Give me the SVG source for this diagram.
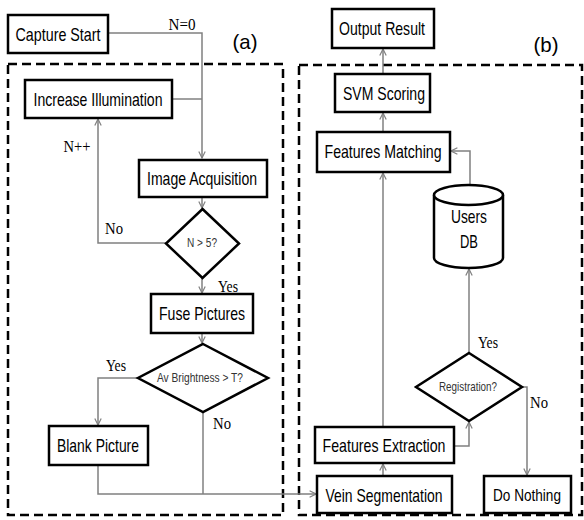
<svg xmlns="http://www.w3.org/2000/svg" width="584" height="520" viewBox="0 0 584 520">
<style>
.box{fill:#fff;stroke:#000;stroke-width:2.5}
.frame{fill:none;stroke:#000;stroke-width:2.5;stroke-dasharray:9,5}
.t{font-family:"Liberation Sans",Arial,sans-serif;font-size:18.5px;fill:#000;text-anchor:middle}
.s{font-family:"Liberation Sans",Arial,sans-serif;font-size:13px;fill:#333;text-anchor:middle}
.l{font-family:"Liberation Serif","Times New Roman",serif;font-size:17px;fill:#000;text-anchor:middle}
.c{fill:none;stroke:#808080;stroke-width:1.5}
</style>
<defs>
<marker id="ar" viewBox="0 0 10 10" refX="9" refY="5" markerWidth="8" markerHeight="8" markerUnits="userSpaceOnUse" orient="auto">
<path d="M1,1 L9,5 L1,9" fill="none" stroke="#808080" stroke-width="1.5"/>
</marker>
</defs>
<rect class="frame" x="8" y="64" width="275" height="451"/>
<rect class="frame" x="299" y="65" width="283" height="450"/>
<text class="t" x="245" y="49" style="font-size:21px" textLength="25" lengthAdjust="spacingAndGlyphs">(a)</text>
<text class="t" x="546" y="52" style="font-size:21px" textLength="25" lengthAdjust="spacingAndGlyphs">(b)</text>
<g id="connectors">
<path class="c" d="M108,33 H202 V158" marker-end="url(#ar)"/>
<path class="c" d="M172,99 H202"/>
<path class="c" d="M202,197 V208" marker-end="url(#ar)"/>
<path class="c" d="M166,243 H98 V119" marker-end="url(#ar)"/>
<path class="c" d="M202,278 V293" marker-end="url(#ar)"/>
<path class="c" d="M202,333 V343" marker-end="url(#ar)"/>
<path class="c" d="M138,378 H98 V425" marker-end="url(#ar)"/>
<path class="c" d="M98,465 V494 H316" marker-end="url(#ar)"/>
<path class="c" d="M203,412 V494"/>
<path class="c" d="M383,476 V464" marker-end="url(#ar)"/>
<path class="c" d="M454,446 H469 V422" marker-end="url(#ar)"/>
<path class="c" d="M469,353 V269" marker-end="url(#ar)"/>
<path class="c" d="M522,387 H527 V475" marker-end="url(#ar)"/>
<path class="c" d="M383,427 V173" marker-end="url(#ar)"/>
<path class="c" d="M470,185 V151 H451" marker-end="url(#ar)"/>
<path class="c" d="M383,132 V113" marker-end="url(#ar)"/>
<path class="c" d="M383,74 V49" marker-end="url(#ar)"/>
<text class="l" x="182" y="30" textLength="27" lengthAdjust="spacingAndGlyphs">N=0</text>
<text class="l" x="77" y="152" textLength="27" lengthAdjust="spacingAndGlyphs">N++</text>
<text class="l" x="114" y="234" textLength="18" lengthAdjust="spacingAndGlyphs">No</text>
<text class="l" x="228" y="292" textLength="20" lengthAdjust="spacingAndGlyphs">Yes</text>
<text class="l" x="116" y="371" textLength="20" lengthAdjust="spacingAndGlyphs">Yes</text>
<text class="l" x="222" y="429" textLength="18" lengthAdjust="spacingAndGlyphs">No</text>
<text class="l" x="488" y="348" textLength="20" lengthAdjust="spacingAndGlyphs">Yes</text>
<text class="l" x="539" y="408" textLength="18" lengthAdjust="spacingAndGlyphs">No</text>
</g>
<g id="capture-start"><rect class="box" x="8" y="15" width="100" height="38"/><text class="t" x="58" y="41" textLength="85" lengthAdjust="spacingAndGlyphs">Capture Start</text></g>
<g id="increase-illumination"><rect class="box" x="25" y="80" width="147" height="38"/><text class="t" x="98" y="106" textLength="129" lengthAdjust="spacingAndGlyphs">Increase Illumination</text></g>
<g id="image-acquisition"><rect class="box" x="139" y="160" width="128" height="37"/><text class="t" x="202" y="185" textLength="110" lengthAdjust="spacingAndGlyphs">Image Acquisition</text></g>
<g id="n-gt-5"><polygon class="box" points="202.5,209 239,243.5 202.5,278 166,243.5"/><text class="s" x="202" y="247" textLength="30" lengthAdjust="spacingAndGlyphs">N &gt; 5?</text></g>
<g id="fuse-pictures"><rect class="box" x="151" y="294" width="102" height="39"/><text class="t" x="202" y="320" textLength="86" lengthAdjust="spacingAndGlyphs">Fuse Pictures</text></g>
<g id="av-brightness"><polygon class="box" points="203,344 268,378 203,412 138,378"/><text class="s" x="200" y="382" textLength="86" lengthAdjust="spacingAndGlyphs">Av Brightness &gt; T?</text></g>
<g id="blank-picture"><rect class="box" x="49" y="426" width="99" height="39"/><text class="t" x="98" y="452" textLength="82" lengthAdjust="spacingAndGlyphs">Blank Picture</text></g>
<g id="output-result"><rect class="box" x="332" y="9" width="102" height="39"/><text class="t" x="382" y="35" textLength="86" lengthAdjust="spacingAndGlyphs">Output Result</text></g>
<g id="svm-scoring"><rect class="box" x="335" y="74" width="95" height="38"/><text class="t" x="384" y="100" textLength="82" lengthAdjust="spacingAndGlyphs">SVM Scoring</text></g>
<g id="features-matching"><rect class="box" x="317" y="132" width="133" height="40"/><text class="t" x="383" y="158" textLength="117" lengthAdjust="spacingAndGlyphs">Features Matching</text></g>
<g id="users-db">
<path class="box" d="M434,195 V258 A34.5,10 0 0 0 503,258 V195"/>
<ellipse class="box" cx="468.5" cy="195" rx="34.5" ry="10"/>
<text class="t" x="469" y="223" textLength="36" lengthAdjust="spacingAndGlyphs">Users</text>
<text class="t" x="469" y="248" textLength="18" lengthAdjust="spacingAndGlyphs">DB</text>
</g>
<g id="registration"><polygon class="box" points="469,353 522,387 469,421 416,387"/><text class="s" x="468" y="391" textLength="58" lengthAdjust="spacingAndGlyphs">Registration?</text></g>
<g id="features-extraction"><rect class="box" x="315" y="427" width="139" height="36"/><text class="t" x="384" y="452" textLength="123" lengthAdjust="spacingAndGlyphs">Features Extraction</text></g>
<g id="vein-segmentation"><rect class="box" x="317" y="476" width="135" height="37"/><text class="t" x="384" y="502" textLength="117" lengthAdjust="spacingAndGlyphs">Vein Segmentation</text></g>
<g id="do-nothing"><rect class="box" x="484" y="476" width="87" height="37"/><text class="t" x="527" y="501" style="font-size:16.5px" textLength="68" lengthAdjust="spacingAndGlyphs">Do Nothing</text></g>
</svg>
